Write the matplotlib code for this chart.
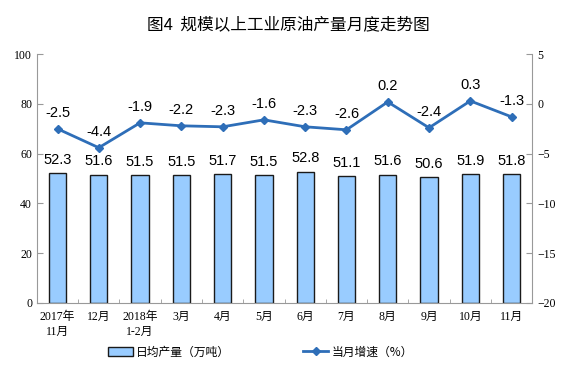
import matplotlib
matplotlib.use("Agg")
import matplotlib.pyplot as plt
import numpy as np

months = ["2017年\n11月", "12月", "2018年\n1-2月", "3月", "4月", "5月",
          "6月", "7月", "8月", "9月", "10月", "11月"]
output = [52.3, 51.6, 51.5, 51.5, 51.7, 51.5, 52.8, 51.1, 51.6, 50.6, 51.9, 51.8]
growth = [-2.5, -4.4, -1.9, -2.2, -2.3, -1.6, -2.3, -2.6, 0.2, -2.4, 0.3, -1.3]

serif = ["Liberation Serif", "Noto Sans CJK SC"]
sans = ["Liberation Sans", "Noto Sans CJK SC"]
cjk = ["Noto Sans CJK SC", "DejaVu Sans"]

fig = plt.figure(figsize=(5.76, 3.84), dpi=100)
ax = fig.add_axes([0.064, 0.211, 0.86, 0.648])
x = np.arange(len(months))

bars = ax.bar(x, output, width=0.42, color="#99CCFF", edgecolor="#1a1a1a",
              linewidth=1.0, label="日均产量（万吨）", zorder=2)
for xi, v in zip(x, output):
    ax.text(xi, v + 2.5, f"{v:.1f}", ha="center", va="bottom",
            fontsize=10.5, family=sans)

ax.set_ylim(0, 100)
ax.set_yticks(range(0, 101, 20))
ax.set_xlim(-0.5, len(months) - 0.5)
ax.set_xticks(x)
ax.set_xticklabels(months, family=serif, fontsize=8.5, linespacing=1.3)
ax.set_xticks(np.arange(-0.5, len(months), 1), minor=True)
ax.tick_params(axis="x", which="major", length=0, pad=6)
ax.tick_params(axis="x", which="minor", length=3, direction="in", color="#999999")
ax.tick_params(axis="y", direction="in", length=4, color="#999999", labelsize=8.5)
for lab in ax.get_yticklabels():
    lab.set_family(serif)

for s in ["top", "right"]:
    ax.spines[s].set_visible(False)
ax.spines["left"].set_color("#999999")
ax.spines["bottom"].set_color("#999999")

ax2 = ax.twinx()
line, = ax2.plot(x, growth, color="#2E6EB8", linewidth=2, marker="D",
                 markersize=4, label="当月增速（%）", zorder=3)
for xi, v in zip(x, growth):
    ax2.text(xi, v + 0.9, f"{v:.1f}", ha="center", va="bottom",
             fontsize=10.5, family=sans)
ax2.set_ylim(-20, 5)
ax2.set_yticks(range(-20, 6, 5))
ax2.tick_params(axis="y", direction="in", length=4, color="#999999", labelsize=8.5)
for lab in ax2.get_yticklabels():
    lab.set_family(serif)
for s in ["top", "left", "bottom"]:
    ax2.spines[s].set_visible(False)
ax2.spines["right"].set_color("#999999")

fig.text(0.5, 0.935, "图4  规模以上工业原油产量月度走势图", ha="center", va="center",
         fontsize=12, family=cjk, fontweight="medium")

fig.legend([bars, line], ["日均产量（万吨）", "当月增速（%）"],
           loc="center", bbox_to_anchor=(0.452, 0.083), ncol=2, frameon=False,
           prop={"family": cjk, "size": 8.5}, columnspacing=6.2, handlelength=2.1,
           handletextpad=0.3)

fig.savefig("out.png", dpi=100)
